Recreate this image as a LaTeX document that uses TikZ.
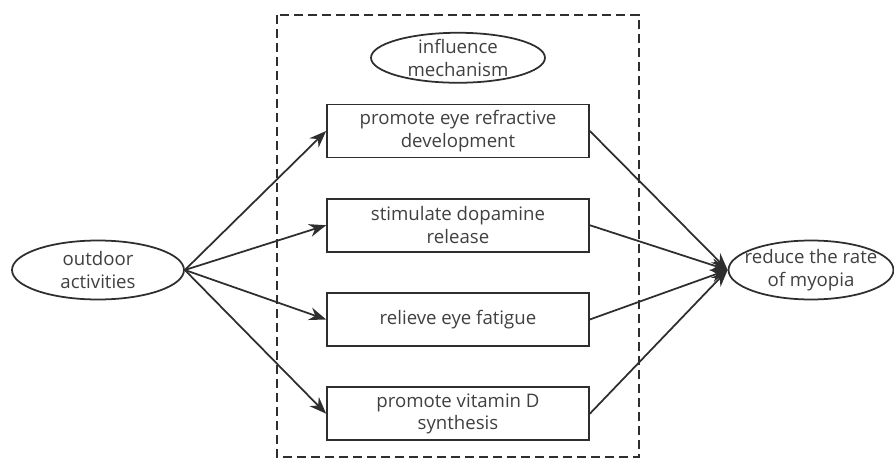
\documentclass[tikz,border=0pt]{standalone}
\usepackage{fontspec}
\setmainfont{Open Sans}
\usetikzlibrary{positioning, arrows.meta, shapes.geometric}
\definecolor{linegray}{HTML}{2E2E2E}
\definecolor{textgray}{HTML}{404040}
\tikzset{
    >={Stealth[length=3.4mm, width=2.6mm]}, % heads of the connectors
    mechbox/.style={rectangle, draw=linegray, line width=1pt, minimum width=5.24cm, minimum height=1.06cm, align=center, text=textgray, font=\fontsize{10.6}{12.8}\selectfont},
    oval/.style={ellipse, draw=linegray, line width=1pt, inner xsep=-10pt, inner ysep=-4pt, align=center, text=textgray, font=\fontsize{10.6}{12.8}\selectfont},
}

\begin{document}
\begin{tikzpicture}[x=0.02cm, y=-0.02cm]
        \useasboundingbox (0,0) rectangle (894,460);
        % Nodes
        \node[oval, minimum width=3.44cm, minimum height=1.18cm] (out) at (98,270) {outdoor\\activities};
        \node[oval, minimum width=3.3cm, minimum height=1.18cm] (myopia) at (811,270) {reduce the rate\\of myopia};

        \node[mechbox] (B1) at (458,131) {promote eye refractive\\development};
        \node[mechbox, below=0.79cm of B1] (B2) {stimulate dopamine\\release};
        \node[mechbox, below=0.79cm of B2] (B3) {relieve eye fatigue};
        \node[mechbox, below=0.79cm of B3] (B4) {promote vitamin D\\synthesis};
        \node[oval, minimum width=3.48cm, minimum height=1cm, above=0.4cm of B1] (infl) {influence\\mechanism};

        % Frame
        \draw[linegray, line width=1pt, dash pattern=on 1.8mm off 1mm] (277,15) rectangle (639,457);

        % Draw lines
        \foreach \b in {B1, B2, B3, B4} {
            \draw[->, linegray, line width=1pt] (out.east) -- (\b.west);
            \draw[->, linegray, line width=1pt] (\b.east) -- (myopia.west);
        }
\end{tikzpicture}
\end{document}
